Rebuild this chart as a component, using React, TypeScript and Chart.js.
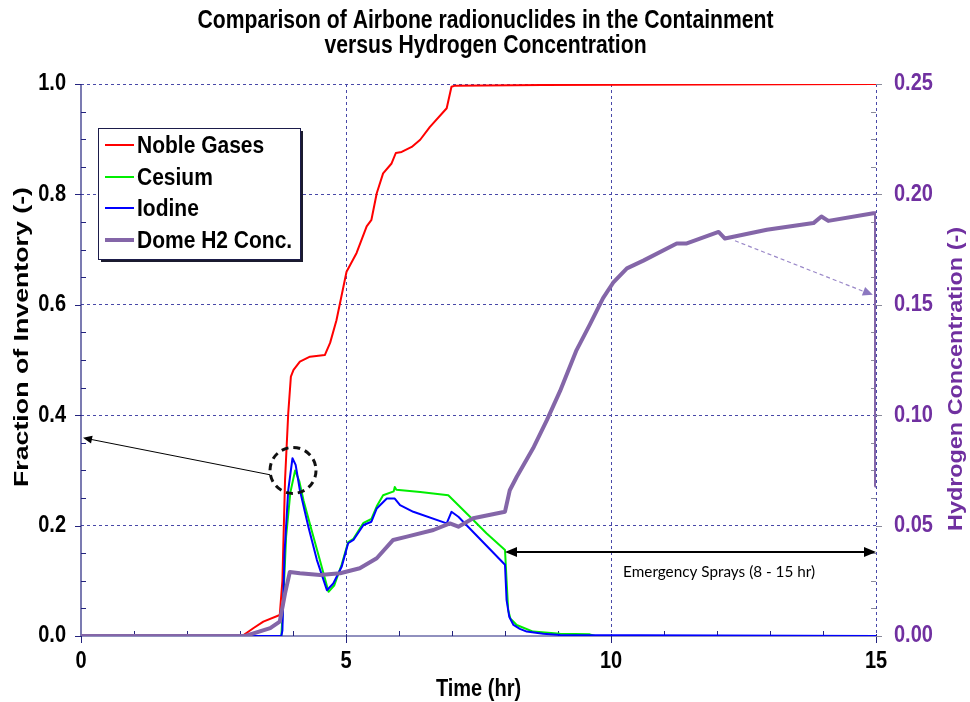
import React, { useEffect, useRef } from "react";
import { Chart, registerables } from "chart.js";

Chart.register(...registerables);

// ---------- text ----------
const TITLE_LINES = [
  "Comparison of Airbone radionuclides in the Containment",
  "versus Hydrogen Concentration",
];
const X_TITLE = "Time (hr)";
const Y_TITLE = "Fraction of Inventory (-)";
const Y2_TITLE = "Hydrogen Concentration (-)";
const SPRAY_LABEL = "Emergency Sprays (8 - 15 hr)";

// ---------- ticks ----------
const X_TICKS = [0, 5, 10, 15];
const Y_TICKS = [0, 0.2, 0.4, 0.6, 0.8, 1.0];
const Y2_TICKS = [0, 0.05, 0.1, 0.15, 0.2, 0.25];

// ---------- series ----------
const nobleTime = [0, 3.04, 3.25, 3.44, 3.75, 3.8, 3.85, 3.91, 3.96, 4.01, 4.13, 4.32, 4.6, 4.7, 4.82, 5.01, 5.2, 5.39, 5.48, 5.58, 5.7, 5.86, 5.94, 6.05, 6.24, 6.4, 6.58, 6.9, 6.99, 7.06, 8.7, 15];
const nobleFrac = [0, 0, 0.014, 0.026, 0.038, 0.1, 0.283, 0.403, 0.47, 0.482, 0.497, 0.506, 0.509, 0.531, 0.572, 0.66, 0.694, 0.742, 0.754, 0.802, 0.838, 0.856, 0.875, 0.877, 0.886, 0.899, 0.922, 0.956, 0.995, 0.997, 0.998, 1.0];

const cesiumTime = [0, 3.78, 3.81, 3.87, 3.95, 4.04, 4.12, 4.2, 4.35, 4.5, 4.67, 4.78, 4.92, 5.04, 5.14, 5.33, 5.48, 5.58, 5.7, 5.9, 5.92, 5.95, 6.4, 6.93, 7.34, 7.65, 8.0, 8.03, 8.06, 8.1, 8.22, 8.53, 9.04, 9.6, 9.7, 15];
const cesiumFrac = [0, 0, 0.05, 0.18, 0.26, 0.3, 0.28, 0.245, 0.192, 0.14, 0.08, 0.092, 0.13, 0.17, 0.176, 0.205, 0.212, 0.235, 0.255, 0.262, 0.27, 0.265, 0.261, 0.255, 0.216, 0.186, 0.156, 0.1, 0.047, 0.032, 0.02, 0.008, 0.004, 0.003, 0, 0];

const iodineTime = [0, 3.78, 3.8, 3.84, 3.91, 3.99, 4.05, 4.13, 4.29, 4.45, 4.64, 4.76, 4.92, 5.04, 5.14, 5.33, 5.48, 5.58, 5.77, 5.92, 6.02, 6.27, 6.9, 6.99, 7.12, 8.0, 8.03, 8.08, 8.16, 8.28, 8.41, 8.72, 9.04, 15];
const iodineFrac = [0, 0, 0.01, 0.15, 0.264, 0.322, 0.31, 0.264, 0.198, 0.138, 0.083, 0.095, 0.126, 0.168, 0.174, 0.201, 0.207, 0.231, 0.249, 0.249, 0.237, 0.225, 0.204, 0.225, 0.216, 0.129, 0.065, 0.035, 0.02, 0.013, 0.008, 0.004, 0.002, 0];

const h2Time = [0, 3.1, 3.57, 3.75, 3.85, 3.94, 4.13, 4.51, 4.89, 5.26, 5.58, 5.89, 6.15, 6.65, 6.96, 7.12, 7.4, 8.0, 8.09, 8.22, 8.53, 8.79, 9.04, 9.35, 9.6, 9.85, 10.04, 10.3, 10.61, 11.24, 11.43, 12.03, 12.15, 12.94, 13.82, 13.97, 14.1, 14.95, 15, 15];
const h2Conc = [0, 0, 0.0036, 0.0065, 0.0193, 0.029, 0.0284, 0.0276, 0.0284, 0.0307, 0.0352, 0.0435, 0.045, 0.048, 0.051, 0.0495, 0.0533, 0.0563, 0.066, 0.072, 0.085, 0.0978, 0.111, 0.1295, 0.141, 0.153, 0.16, 0.1665, 0.17, 0.1778, 0.1778, 0.183, 0.18, 0.184, 0.187, 0.19, 0.188, 0.1915, 0.1915, 0.068];

// ---------- annotation anchors (data coordinates) ----------
const PEAK_CIRCLE = { x: 4.0, y: 0.3 };
const PEAK_ARROW = { fromX: 3.57, fromY: 0.292, toX: 0, toY: 0.359 };
const SPRAY_ARROW = { fromX: 8.0, toX: 15, y: 0.152, labelX: 12.04, labelY: 0.116 };
const H2_ARROW = { fromX: 12.34, fromY: 0.179, toX: 14.94, toY: 0.1545 };

const FONT = '"Liberation Sans", Arial, sans-serif';
const PURPLE_TEXT = "#7030a0";
const H2_COLOR = "#8466a8";
const AXIS_NAVY = "#23237e";
const GRID_COLOR = "#4848a8";

const pts = (t: number[], v: number[]) => t.map((x, i) => ({ x, y: v[i] }));

type TxtOpts = {
  size: number;
  bold?: boolean;
  family?: string;
  color: string;
  align?: CanvasTextAlign;
  sy?: number;
  width?: number;
  rot?: boolean;
};

function txt(ctx: CanvasRenderingContext2D, s: string, x: number, y: number, o: TxtOpts) {
  ctx.save();
  ctx.font = `${o.bold ? "bold " : ""}${o.size}px ${o.family || FONT}`;
  ctx.fillStyle = o.color;
  ctx.textBaseline = "middle";
  ctx.textAlign = o.align || "center";
  const w = ctx.measureText(s).width;
  const sx = o.width ? o.width / w : 1;
  ctx.translate(x, y);
  if (o.rot) ctx.rotate(-Math.PI / 2);
  ctx.scale(sx, o.sy || 1);
  ctx.fillText(s, 0, 0);
  ctx.restore();
}

function arrowHead(ctx: CanvasRenderingContext2D, fx: number, fy: number, tx: number, ty: number, len: number, half: number, color: string) {
  const a = Math.atan2(ty - fy, tx - fx);
  ctx.save();
  ctx.fillStyle = color;
  ctx.beginPath();
  ctx.moveTo(tx, ty);
  ctx.lineTo(tx - len * Math.cos(a) + half * Math.sin(a), ty - len * Math.sin(a) - half * Math.cos(a));
  ctx.lineTo(tx - len * Math.cos(a) - half * Math.sin(a), ty - len * Math.sin(a) + half * Math.cos(a));
  ctx.closePath();
  ctx.fill();
  ctx.restore();
}

const decorPlugin = {
  id: "decor",
  beforeDatasetsDraw(chart: any) {
    const ctx: CanvasRenderingContext2D = chart.ctx;
    const { left, right, top, bottom } = chart.chartArea;
    const xs = chart.scales.x, ys = chart.scales.y, y2 = chart.scales.y2;
    ctx.save();
    // axis lines
    ctx.strokeStyle = AXIS_NAVY;
    ctx.lineWidth = 1.2;
    ctx.beginPath();
    ctx.moveTo(left, top);
    ctx.lineTo(left, bottom);
    ctx.lineTo(right, bottom);
    ctx.stroke();
    ctx.lineWidth = 1;
    // left ticks
    for (let v = 0; v <= 1.0001; v += 0.05) {
      const p = Math.round(ys.getPixelForValue(v)) + 0.5;
      const major = Math.abs(v / 0.2 - Math.round(v / 0.2)) < 1e-6;
      ctx.beginPath();
      if (major) { ctx.moveTo(left - 6, p); ctx.lineTo(left, p); }
      else { ctx.moveTo(left, p); ctx.lineTo(left + 5, p); }
      ctx.stroke();
    }
    // bottom ticks
    for (let t = 0; t <= 15; t += 1) {
      const p = Math.round(xs.getPixelForValue(t)) + 0.5;
      ctx.beginPath();
      if (t % 5 === 0) { ctx.moveTo(p, bottom - 2); ctx.lineTo(p, bottom + 7); }
      else { ctx.moveTo(p, bottom); ctx.lineTo(p, bottom - 5); }
      ctx.stroke();
    }
    // right ticks
    ctx.strokeStyle = "#8a8a9a";
    for (let i = 0; i <= 20; i++) {
      const v = i * 0.0125;
      const p = Math.round(y2.getPixelForValue(v)) + 0.5;
      ctx.beginPath();
      if (i % 4 === 0) { ctx.moveTo(right, p); ctx.lineTo(right + 6, p); }
      else { ctx.moveTo(right, p); ctx.lineTo(right - 5, p); }
      ctx.stroke();
    }
    ctx.restore();
  },
  afterDatasetsDraw(chart: any) {
    const ctx: CanvasRenderingContext2D = chart.ctx;
    const { left, right, top, bottom } = chart.chartArea;
    const xs = chart.scales.x, ys = chart.scales.y, y2 = chart.scales.y2;

    // title
    const cx = (left + right) / 2 + 7;
    txt(ctx, TITLE_LINES[0], cx, 21, { size: 21, bold: true, color: "#000", width: 576, sy: 1.2 });
    ctx.save();
    ctx.font = `bold 21px ${FONT}`;
    const f = 576 / ctx.measureText(TITLE_LINES[0]).width;
    const w2 = ctx.measureText(TITLE_LINES[1]).width * f;
    ctx.restore();
    txt(ctx, TITLE_LINES[1], cx, 46, { size: 21, bold: true, color: "#000", width: w2, sy: 1.2 });

    // tick labels
    for (const v of Y_TICKS) {
      txt(ctx, v.toFixed(1), left - 15, ys.getPixelForValue(v), { size: 20, bold: true, color: "#000", align: "right", sy: 1.15 });
    }
    for (const v of Y2_TICKS) {
      txt(ctx, v.toFixed(2), right + 18, y2.getPixelForValue(v), { size: 20, bold: true, color: PURPLE_TEXT, align: "left", sy: 1.15 });
    }
    for (const v of X_TICKS) {
      txt(ctx, String(v), xs.getPixelForValue(v), bottom + 26, { size: 20, bold: true, color: "#000", sy: 1.15 });
    }

    // axis titles
    txt(ctx, X_TITLE, (left + right) / 2, 690, { size: 20, bold: true, color: "#000", sy: 1.15 });
    txt(ctx, Y_TITLE, 22, 337, { size: 20, bold: true, color: "#000", rot: true, width: 300 });
    txt(ctx, Y2_TITLE, 956, 379, { size: 20, bold: true, color: PURPLE_TEXT, rot: true, width: 304 });

    // peak arrow + dashed circle
    ctx.save();
    const ax1 = xs.getPixelForValue(PEAK_ARROW.fromX), ay1 = ys.getPixelForValue(PEAK_ARROW.fromY);
    const ax2 = xs.getPixelForValue(PEAK_ARROW.toX) + 2, ay2 = ys.getPixelForValue(PEAK_ARROW.toY);
    ctx.strokeStyle = "#000";
    ctx.lineWidth = 1;
    ctx.beginPath();
    ctx.moveTo(ax1, ay1);
    ctx.lineTo(ax2 + 6, ay2 + (ay1 - ay2) * (6 / (ax1 - ax2)));
    ctx.stroke();
    arrowHead(ctx, ax1, ay1, ax2, ay2, 9, 4, "#000");
    const ccx = xs.getPixelForValue(PEAK_CIRCLE.x), ccy = ys.getPixelForValue(PEAK_CIRCLE.y);
    ctx.setLineDash([7, 5]);
    ctx.lineWidth = 3;
    ctx.strokeStyle = "#111";
    ctx.beginPath();
    ctx.arc(ccx, ccy, 23, 0, Math.PI * 2);
    ctx.stroke();
    ctx.restore();

    // spray double arrow
    ctx.save();
    const sx1 = xs.getPixelForValue(SPRAY_ARROW.fromX), sx2 = xs.getPixelForValue(SPRAY_ARROW.toX);
    const sy = ys.getPixelForValue(SPRAY_ARROW.y);
    ctx.strokeStyle = "#000";
    ctx.lineWidth = 2;
    ctx.beginPath();
    ctx.moveTo(sx1 + 8, sy);
    ctx.lineTo(sx2 - 8, sy);
    ctx.stroke();
    arrowHead(ctx, sx2, sy, sx1, sy, 12, 5, "#000");
    arrowHead(ctx, sx1, sy, sx2, sy, 12, 5, "#000");
    ctx.restore();
    txt(ctx, SPRAY_LABEL, xs.getPixelForValue(SPRAY_ARROW.labelX), ys.getPixelForValue(SPRAY_ARROW.labelY), {
      size: 15, family: 'Lato, "Liberation Sans", sans-serif', color: "#000", width: 192, sy: 1.05,
    });

    // H2 dashed arrow
    ctx.save();
    const hx1 = xs.getPixelForValue(H2_ARROW.fromX), hy1 = y2.getPixelForValue(H2_ARROW.fromY);
    const hx2 = xs.getPixelForValue(H2_ARROW.toX), hy2 = y2.getPixelForValue(H2_ARROW.toY);
    ctx.strokeStyle = "#9a88c8";
    ctx.lineWidth = 1.2;
    ctx.setLineDash([4, 3]);
    ctx.beginPath();
    ctx.moveTo(hx1, hy1);
    ctx.lineTo(hx2 - 8, hy2 - 3);
    ctx.stroke();
    ctx.setLineDash([]);
    arrowHead(ctx, hx1, hy1, hx2, hy2, 10, 4.5, "#8c78c0");
    ctx.restore();

    // legend
    const lx = 98, ly = 128, lw = 202, lh = 131;
    ctx.save();
    ctx.fillStyle = "#1b1b2e";
    ctx.fillRect(lx + 3, ly + 3, lw, lh);
    ctx.fillStyle = "#fff";
    ctx.fillRect(lx, ly, lw, lh);
    ctx.strokeStyle = "#1b1b4a";
    ctx.lineWidth = 1;
    ctx.strokeRect(lx + 0.5, ly + 0.5, lw, lh);
    const rows = [145, 177, 208, 240];
    chart.data.datasets.forEach((ds: any, i: number) => {
      const yy = rows[i];
      ctx.strokeStyle = ds.borderColor;
      ctx.lineWidth = ds.borderWidth;
      ctx.beginPath();
      ctx.moveTo(105, yy);
      ctx.lineTo(134, yy);
      ctx.stroke();
      txt(ctx, ds.label, 137, yy + 1, { size: 21, bold: true, color: "#000", align: "left", sy: 1.15 });
    });
    ctx.restore();
  },
};

export default function App() {
  const ref = useRef<HTMLCanvasElement>(null);
  useEffect(() => {
    if (!ref.current) return;
    const gridColor = (c: any) => (c.tick && Math.abs(c.tick.value) < 1e-9 ? "rgba(0,0,0,0)" : GRID_COLOR);
    const chart = new Chart(ref.current, {
      type: "line",
      data: {
        datasets: [
          { label: "Noble Gases", data: pts(nobleTime, nobleFrac), borderColor: "#ff0000", borderWidth: 2, yAxisID: "y", order: 3 },
          { label: "Cesium", data: pts(cesiumTime, cesiumFrac), borderColor: "#00ee00", borderWidth: 2, yAxisID: "y", order: 2 },
          { label: "Iodine", data: pts(iodineTime, iodineFrac), borderColor: "#0000ff", borderWidth: 2, yAxisID: "y", order: 1 },
          { label: "Dome H2 Conc.", data: pts(h2Time, h2Conc), borderColor: H2_COLOR, borderWidth: 4, yAxisID: "y2", order: 0 },
        ] as any,
      },
      options: {
        animation: false,
        responsive: false,
        parsing: false as any,
        elements: { point: { radius: 0 }, line: { tension: 0, borderJoinStyle: "round", borderCapStyle: "round" } },
        layout: { padding: { left: 81, right: 94, top: 84, bottom: 66 } },
        plugins: { legend: { display: false }, title: { display: false }, tooltip: { enabled: false } },
        scales: {
          x: {
            type: "linear", min: 0, max: 15,
            ticks: { display: false, stepSize: 5 },
            grid: { color: gridColor, lineWidth: 1, drawTicks: false },
            border: { display: false, dash: [3, 3] },
            afterFit: (s: any) => { s.height = 0; },
          },
          y: {
            type: "linear", position: "left", min: 0, max: 1,
            ticks: { display: false, stepSize: 0.2 },
            grid: { color: gridColor, lineWidth: 1, drawTicks: false },
            border: { display: false, dash: [3, 3] },
            afterFit: (s: any) => { s.width = 0; },
          },
          y2: {
            type: "linear", position: "right", min: 0, max: 0.25, display: false,
            ticks: { stepSize: 0.05 },
            grid: { drawOnChartArea: false },
          },
        },
      } as any,
      plugins: [decorPlugin],
    });
    return () => chart.destroy();
  }, []);
  return (
    <div style={{ position: "fixed", left: 0, top: 0, width: 970, height: 702, background: "#fff" }}>
      <canvas ref={ref} width={970} height={702} style={{ width: 970, height: 702, display: "block" }} />
    </div>
  );
}
